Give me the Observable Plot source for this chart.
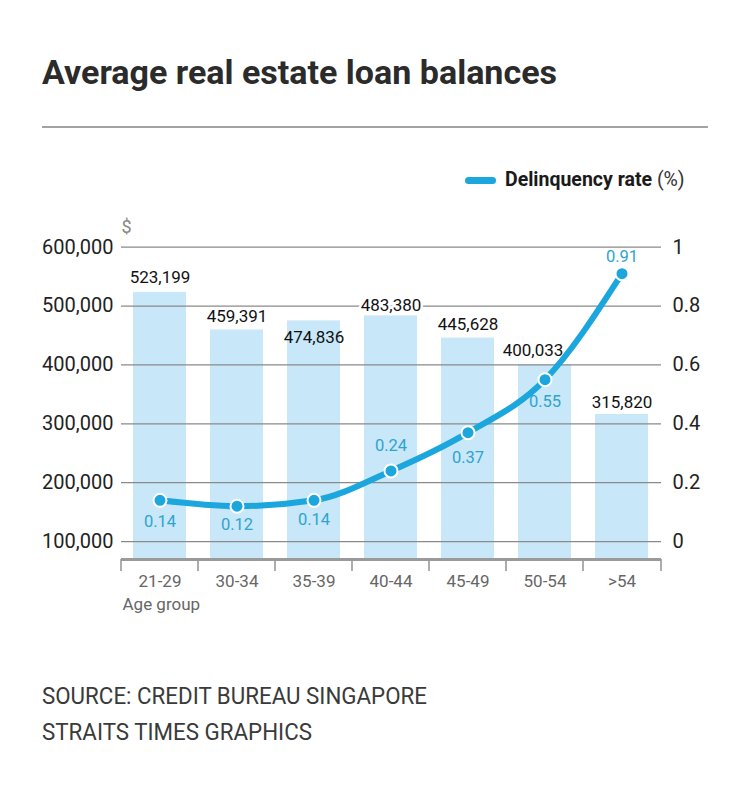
<!DOCTYPE html>
<html><head><meta charset="utf-8">
<script src="https://cdn.jsdelivr.net/npm/d3@7"></script>
<script src="https://cdn.jsdelivr.net/npm/@observablehq/plot@0.6"></script>
<style>
body{margin:0;background:#fff;font-family:Roboto,sans-serif;}
#wrap{position:relative;width:750px;height:809px;overflow:hidden;background:#fff;}
.abs{position:absolute;white-space:nowrap;}
#title{left:42px;top:56px;font-size:33px;line-height:33px;font-weight:700;color:#2b2b2b;transform-origin:0 50%;}
#rule{left:42px;top:126px;width:666px;height:2px;background:#a3a3a3;}
#swatch{left:465px;top:176.5px;width:31px;height:7px;border-radius:4px;background:#1ca6de;}
#legtext{left:505px;top:169px;font-size:19.5px;line-height:22px;color:#1a1a1a;}
#legtext b{font-weight:700;}
#legtext span{color:#333;}
#chart{left:0;top:200px;}
.cap{left:42px;font-size:23px;line-height:37px;color:#3a3a3a;transform-origin:0 50%;}
</style></head><body>
<div id="wrap">
  <div id="title" class="abs">Average real estate loan balances</div>
  <div id="rule" class="abs"></div>
  <div id="swatch" class="abs"></div>
  <div id="legtext" class="abs"><b>Delinquency rate</b><span> (%)</span></div>
  <div id="chart" class="abs"></div>
  <div id="cap1" class="abs cap" style="top:678px">SOURCE: CREDIT BUREAU SINGAPORE</div>
  <div id="cap2" class="abs cap" style="top:714px">STRAITS TIMES GRAPHICS</div>
</div>
<script>
// ---- data ----
const ageGroups = ["21-29","30-34","35-39","40-44","45-49","50-54",">54"];
const loanBalances = [523199,459391,474836,483380,445628,400033,315820];
const delinquencyRates = [0.14,0.12,0.14,0.24,0.37,0.55,0.91];
const leftTicks = [100000,200000,300000,400000,500000,600000];
const rightTicks = [0,0.2,0.4,0.6,0.8,1];

// ---- layout ----
const yMin = 69500, yMax = 600000;
const toLeft = r => 100000 + r * 500000; // right axis 0..1 maps onto 100k..600k gridlines
const barLabelDx = [0,0,0,0,0,-12,0];
const barLabelDy = [-15,-13,17,-10,-14,-14,-12];
const rateLabelDy = [21,18,19,-25,25,22,-17];

const rows = ageGroups.map((age,i)=>({age, balance: loanBalances[i], rate: delinquencyRates[i], i}));

const lineColor = "#1ca6de";
const barColor = "#c8e7f8";

function boundaryTicks(index, scales, values, dimensions) {
  const {width, marginLeft, marginRight} = dimensions;
  const x = scales.x;
  const y0 = scales.y(yMin);
  const bw = typeof x.bandwidth === "function" ? x.bandwidth() : 0;
  const step = x(ageGroups[1]) - x(ageGroups[0]);
  const gap = step - bw;
  const xs = [marginLeft, ...ageGroups.slice(1).map(a => x(a) - gap/2), width - marginRight];
  const g = d3.create("svg:g");
  g.selectAll("line").data(xs).join("line")
    .attr("x1", d=>d).attr("x2", d=>d)
    .attr("y1", y0).attr("y2", y0 + 12)
    .attr("stroke", "#999").attr("stroke-width", 1.6);
  return g.node();
}

const barLabelMarks = rows.map((r,i)=>Plot.text([r], {
  x: "age", y: "balance", text: d => d3.format(",")(d.balance),
  dx: barLabelDx[i], dy: barLabelDy[i], fontSize: 17, fontWeight: 400, fill: "#111",
  stroke: barLabelDy[i] < 0 ? "white" : "none", strokeWidth: 5
}));
const rateLabelMarks = rows.map((r,i)=>Plot.text([r], {
  x: "age", y: d => toLeft(d.rate), text: d => String(d.rate),
  dy: rateLabelDy[i], fontSize: 16.5, fill: "#2ea4d0"
}));

const chart = Plot.plot({
  width: 750, height: 420,
  marginLeft: 121, marginRight: 89, marginTop: 46.7, marginBottom: 61,
  style: {fontFamily: "Roboto, sans-serif", fontSize: "16px", background: "transparent", overflow: "visible", color: "#222"},
  x: {domain: ageGroups, paddingInner: 0.31, paddingOuter: 0.155},
  y: {domain: [yMin, yMax]},
  marks: [
    Plot.barY(rows, {x: "age", y1: yMin, y2: "balance", fill: barColor}),
    Plot.ruleY(leftTicks, {stroke: "#8a8a8a", strokeWidth: 1.3}),
    Plot.ruleY([yMin], {stroke: "#9a9a9a", strokeWidth: 3}),
    boundaryTicks,
    Plot.axisY({ticks: leftTicks, tickFormat: d3.format(","), tickSize: 0, tickPadding: 8, fontSize: 20, fill: "#222", label: null}),
    Plot.text(rightTicks, {y: d => toLeft(d), text: d => String(d), frameAnchor: "right", dx: 11, textAnchor: "start", fontSize: 20, fill: "#222"}),
    Plot.axisX({tickSize: 0, tickPadding: 15, fontSize: 17, fill: "#666", label: null}),
    Plot.text(["Age group"], {frameAnchor: "bottom-left", textAnchor: "start", lineAnchor: "top", dx: 1, dy: 38, fontSize: 17, fill: "#666"}),
    Plot.text(["$"], {frameAnchor: "top-left", textAnchor: "start", dx: 0, dy: -27, fontSize: 18, fill: "#888"}),
    ...barLabelMarks,
    Plot.line(rows, {x: "age", y: d => toLeft(d.rate), stroke: lineColor, strokeWidth: 6, curve: "monotone-x"}),
    Plot.dot(rows, {x: "age", y: d => toLeft(d.rate), r: 6.5, fill: lineColor, stroke: "white", strokeWidth: 2}),
    ...rateLabelMarks
  ]
});
document.getElementById("chart").appendChild(chart);

function fit(el, w){
  const r = el.getBoundingClientRect().width;
  const s = w / r;
  el.style.transform = `scaleX(${s})`;
  return s;
}
fit(document.getElementById("title"), 515);
const s = fit(document.getElementById("cap1"), 385);
document.getElementById("cap2").style.transform = `scaleX(${s})`;
</script>
</body></html>
